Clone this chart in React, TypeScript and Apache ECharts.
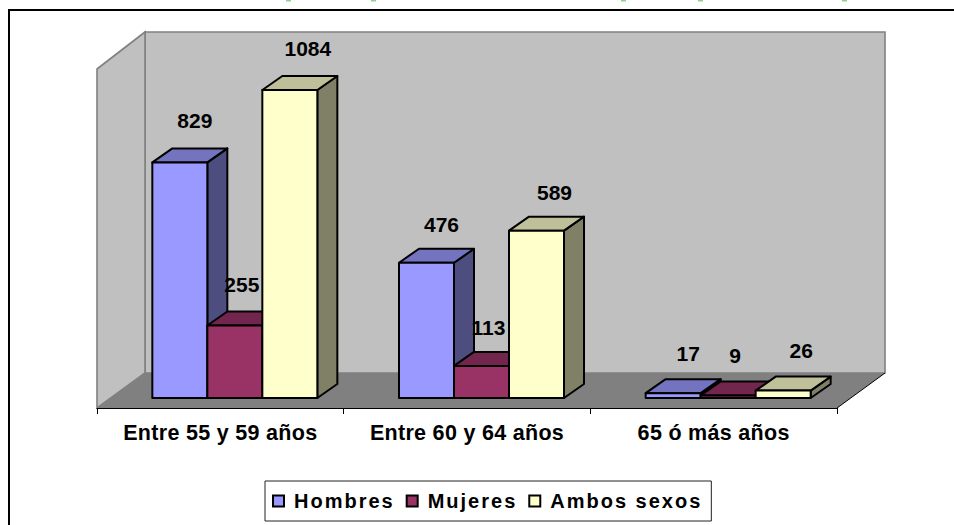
import React, { useEffect, useRef } from "react";
import * as echarts from "echarts";

const categories = ["Entre 55 y 59 años", "Entre 60 y 64 años", "65 ó más años"];
const hombres = [829, 476, 17];
const mujeres = [255, 113, 9];
const ambosSexos = [1084, 589, 26];
const seriesNames = ["Hombres", "Mujeres", "Ambos sexos"];

const FONT = "'Liberation Sans', Arial, sans-serif";
const DX = 20, DY = 14;       // bar depth
const SHIFT_X = 14.5, SHIFT_Y = 10; // bars stand inside the floor
const BAR_W = 55;
const LABEL_LIFT = [41.5, 38.5, 40];

function barSeries(name: string, values: number[], slot: number, front: string, top: string, side: string, labelDx: number) {
  return {
    type: "custom",
    name,
    clip: false,
    z: 2 + slot,
    itemStyle: { color: front, borderColor: "#000", borderWidth: 1.8 },
    data: values.map((v, i) => [i, v]),
    encode: { x: 0, y: 1 },
    renderItem: (_p: any, api: any) => {
      const cat = api.value(0);
      const val = api.value(1);
      const t = api.coord([cat, val]);
      const b = api.coord([cat, 0]);
      const l = t[0] + SHIFT_X + (slot - 1) * BAR_W - BAR_W / 2;
      const r = l + BAR_W;
      const yT = t[1] - SHIFT_Y;
      const yB = b[1] - SHIFT_Y;
      const stroke = { stroke: "#000", lineWidth: 2, lineJoin: "round" };
      return {
        type: "group",
        children: [
          { type: "polygon", shape: { points: [[r, yT], [r + DX, yT - DY], [r + DX, yB - DY], [r, yB]] }, style: { fill: side, ...stroke } },
          { type: "polygon", shape: { points: [[l, yT], [l + DX, yT - DY], [r + DX, yT - DY], [r, yT]] }, style: { fill: top, ...stroke } },
          { type: "polygon", shape: { points: [[l, yT], [r, yT], [r, yB], [l, yB]] }, style: { fill: front, ...stroke } },
          {
            type: "text",
            z2: 100,
            style: {
              x: (l + r) / 2 + labelDx,
              y: yT - LABEL_LIFT[cat],
              text: String(val),
              fill: "#000",
              font: `bold 21px ${FONT}`,
              align: "center",
              verticalAlign: "middle",
            },
          },
        ],
      };
    },
  };
}

const wallStroke = { stroke: "#808080", lineWidth: 1.6 };
const greenMarks = [288, 373, 623, 700, 844];

export default function App() {
  const ref = useRef<HTMLDivElement>(null);
  useEffect(() => {
    const chart = echarts.init(ref.current!, null, { renderer: "svg" });
    chart.setOption({
      animation: false,
      backgroundColor: "#fff",
      grid: { left: 97, right: 117, top: 67, bottom: 117 },
      xAxis: {
        type: "category",
        data: categories,
        z: 3,
        axisLine: { lineStyle: { color: "#000", width: 1 } },
        axisTick: { show: true, alignWithLabel: false, length: 6, lineStyle: { color: "#000", width: 1 } },
        axisLabel: { color: "#000", fontFamily: FONT, fontWeight: "bold", fontSize: 21.5, margin: 14, interval: 0 },
      },
      yAxis: { type: "value", min: 0, max: 1200, show: false },
      legend: {
        left: 265,
        top: 481,
        icon: "rect",
        selectedMode: false,
        itemWidth: 11,
        itemHeight: 11,
        itemGap: 25,
        padding: [10, 31, 10, 7],
        backgroundColor: "#fff",
        borderColor: "#222",
        borderWidth: 1,
        borderRadius: 0,
        data: seriesNames,
        textStyle: { color: "#000", fontFamily: FONT, fontWeight: "bold", fontSize: 20, padding: [0, 0, 0, 5] },
      },
      graphic: [
        { type: "polygon", shape: { points: [[145, 32], [885, 32], [885, 373], [145, 373]] }, style: { fill: "#C0C0C0", ...wallStroke } },
        { type: "polygon", shape: { points: [[97, 69], [145, 32], [145, 373], [97, 408]] }, style: { fill: "#C0C0C0", ...wallStroke } },
        { type: "polygon", shape: { points: [[97, 408], [145, 373], [885, 373], [837, 408]] }, style: { fill: "#808080" } },
        { type: "line", shape: { x1: 837, y1: 408, x2: 885, y2: 373 }, style: { stroke: "#000", lineWidth: 1 } },
        { type: "line", shape: { x1: 8, y1: 10, x2: 954, y2: 10 }, style: { stroke: "#000", lineWidth: 2 } },
        { type: "line", shape: { x1: 9, y1: 10, x2: 9, y2: 525 }, style: { stroke: "#000", lineWidth: 2 } },
        ...greenMarks.map((x) => ({ type: "rect", shape: { x: x - 2, y: 0, width: 5, height: 1.5 }, style: { fill: "#8fd08f" } })),
      ],
      series: [
        barSeries(seriesNames[0], hombres, 0, "#9999FF", "#7373BF", "#4D4D80", 15),
        barSeries(seriesNames[1], mujeres, 1, "#993366", "#73264D", "#4D1A33", 7),
        barSeries(seriesNames[2], ambosSexos, 2, "#FFFFCC", "#BFBF99", "#808066", 18),
      ],
    });
    return () => chart.dispose();
  }, []);
  return (
    <>
      <style>{`text[style*="20px"]{letter-spacing:2px} text[style*="21.5px"]{letter-spacing:.3px}`}</style>
      <div ref={ref} style={{ position: "fixed", left: 0, top: 0, width: 954, height: 525 }} />
    </>
  );
}
